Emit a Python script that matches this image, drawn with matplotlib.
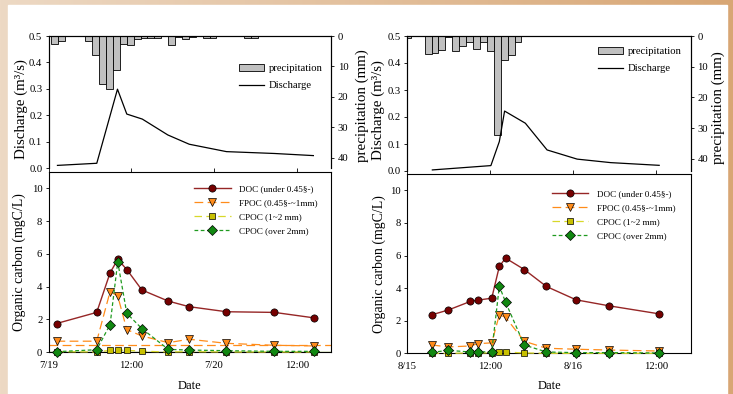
import matplotlib
matplotlib.use('Agg')
import matplotlib.pyplot as plt
import numpy as np
from matplotlib.lines import Line2D
from matplotlib.patches import Rectangle, Patch

plt.rcParams['font.family'] = ['Liberation Serif', 'DejaVu Serif']

# ---------------- data: left event (July 19-20), x in hours from 7/19 00:00 ----------------
L_xticklabels = ['7/19', '12:00', '7/20', '12:00']
L_precip_time = [0.85, 1.85, 5.85, 6.85, 7.85, 8.85, 9.85, 10.85, 11.85, 12.85, 13.85,
                 14.85, 15.85, 17.85, 18.85, 19.85, 20.85, 22.85, 23.85, 28.85, 29.85]
L_precip = [2.5, 1.5, 1.6, 6.1, 15.7, 17.4, 11.3, 2.5, 3.1, 1.1, 0.5,
            0.5, 0.5, 3.1, 0.4, 1.0, 0.4, 0.5, 0.5, 0.5, 0.5]
L_q_time = [1.3, 7.0, 10.0, 11.35, 13.6, 17.3, 20.4, 25.8, 32.75, 38.4]
L_q = [0.011, 0.019, 0.299, 0.205, 0.186, 0.126, 0.091, 0.063, 0.056, 0.048]
L_time = [1.16, 6.99, 8.93, 10.04, 11.35, 13.54, 17.37, 20.38, 25.8, 32.75, 38.43]
L_doc = [1.74, 2.42, 4.84, 5.66, 5.04, 3.79, 3.11, 2.77, 2.46, 2.42, 2.09]
L_fpoc = [0.66, 0.66, 3.69, 3.42, 1.37, 0.98, 0.57, 0.78, 0.53, 0.41, 0.37]
L_cpoc12 = [0.02, 0.0, 0.10, 0.12, 0.10, 0.05, 0.0, 0.02, 0.0, 0.0, 0.0]
L_cpoc2 = [0.02, 0.14, 1.68, 5.51, 2.36, 1.43, 0.16, 0.12, 0.08, 0.04, 0.04]
L_fpoc_ref = 0.43

# ---------------- data: right event (Aug 15-16), x in hours from 8/15 00:00 ----------------
R_xticklabels = ['8/15', '12:00', '8/16', '12:00']
R_precip_time = [0, 3, 4, 5, 6, 7, 8, 9, 10, 11, 12, 13, 14, 15, 16]
R_precip = [0.5, 5.8, 5.4, 4.4, 0.4, 4.9, 3.4, 1.9, 4.3, 1.9, 4.9, 32.2, 7.9, 6.3, 1.9]
R_q_time = [3.62, 12.08, 13.3, 14.06, 17.06, 20.2, 24.55, 29.4, 36.4]
R_q = [0.004, 0.02, 0.109, 0.222, 0.177, 0.078, 0.044, 0.031, 0.021]
R_time = [3.53, 5.95, 9.1, 10.15, 12.2, 13.3, 14.2, 16.9, 20.1, 24.4, 29.2, 36.4]
R_doc = [2.36, 2.66, 3.18, 3.26, 3.38, 5.33, 5.84, 5.14, 4.10, 3.28, 2.91, 2.42]
R_fpoc = [0.51, 0.39, 0.45, 0.59, 0.64, 2.36, 2.21, 0.74, 0.31, 0.25, 0.20, 0.14]
R_cpoc12 = [0.0, 0.0, 0.02, 0.02, 0.02, 0.06, 0.08, 0.02, 0.0, 0.0, 0.0, 0.0]
R_cpoc2 = [0.06, 0.18, 0.08, 0.08, 0.10, 4.12, 3.14, 0.51, 0.08, 0.04, 0.04, 0.02]

xtick_hours = [0, 12, 24, 36]
labels = ['DOC (under 0.45§-)', 'FPOC (0.45§-~1mm)', 'CPOC (1~2 mm)', 'CPOC (over 2mm)']

W, H = 733, 394
fig = plt.figure(figsize=(W / 100, H / 100), dpi=100)

# background: beige gradient frame with white panel
bg = fig.add_axes([0, 0, 1, 1], zorder=-10)
c1 = np.array([237, 217, 196]) / 255
c2 = np.array([216, 166, 116]) / 255
t = np.linspace(0, 1, 256)[None, :, None]
grad = c1 + (c2 - c1) * t
bg.imshow(np.repeat(grad, 2, axis=0), aspect='auto', extent=[0, 1, 0, 1])
bg.add_patch(Rectangle((8 / W, 0), (727 - 8) / W, (394 - 5) / H, color='white'))
bg.set_xlim(0, 1); bg.set_ylim(0, 1)
bg.axis('off')

DOC_C = '#962626'
DOC_M = '#760000'
FP_C = '#ff8c1a'
CP1_C = '#d8d82a'
CP1_M = '#c8c000'
CP2_C = '#1f9a1f'
CP2_M = '#118811'

FS_TICK = 7.7


def top_panel(rect, ptime, prec, qtime, q, pmax, leg_anchor, lab_l, lab_r):
    ax = fig.add_axes(rect)
    ax2 = ax.twinx()
    ax.set_zorder(ax2.get_zorder() + 1)
    ax.patch.set_visible(False)
    ax2.bar(ptime, prec, width=1.0, color='#c0c0c0', edgecolor='black', linewidth=0.6)
    ax2.set_ylim(pmax, 0)
    ax.plot(qtime, q, color='black', lw=0.9)
    ax.set_ylim(0, 0.5)
    ax.set_xlim(0, 41)
    for a in (ax, ax2):
        a.spines['bottom'].set_visible(False)
        a.set_xticks([])
        for s in a.spines.values():
            s.set_linewidth(0.8)
    ax.set_yticks([0, 0.1, 0.2, 0.3, 0.4, 0.5])
    ax.set_yticklabels(['0.0', '0.1', '0.2', '0.3', '0.4', '0.5'])
    ax2.set_yticks([0, 10, 20, 30, 40])
    ax.tick_params(axis='y', labelsize=FS_TICK, length=2.5, width=0.6, pad=2)
    ax2.tick_params(axis='y', labelsize=FS_TICK, length=2.5, width=0.6, pad=2)
    ax.set_ylabel('Discharge (m³/s)', fontsize=10.8)
    ax.yaxis.set_label_coords(lab_l, 0.45)
    ax2.set_ylabel('precipitation (mm)', fontsize=10.8)
    ax2.yaxis.set_label_coords(lab_r, 0.47)
    handles = [Patch(facecolor='#c0c0c0', edgecolor='black', linewidth=0.6),
               Line2D([], [], color='black', lw=0.9)]
    ax.legend(handles, ['precipitation', 'Discharge'], loc='upper left',
              bbox_to_anchor=leg_anchor, frameon=False, fontsize=FS_TICK,
              handlelength=2.3, handleheight=0.6, handletextpad=0.45,
              labelspacing=0.75, borderaxespad=0, borderpad=0)
    return ax


def bottom_panel(rect, tm, doc, fpoc, cp1, cp2, xlabels, leg_anchor, lab_l, date_y, ref=None):
    ax = fig.add_axes(rect)
    ax.set_xlim(0, 41)
    ax.set_ylim(0, 11)
    if ref is not None:
        ax.axhline(ref, color=FP_C, lw=0.9, dashes=(7, 3.5), zorder=1)
        ax.axhline(0, color='#7aa020', lw=1.0, zorder=1)
    ms = 5.2
    ax.plot(tm, doc, color=DOC_C, lw=1.0, marker='o', ms=ms, mfc=DOC_M, mec='black',
            mew=0.5, clip_on=False, zorder=4, label=labels[0])
    ax.plot(tm, fpoc, color=FP_C, lw=0.9, dashes=(7, 3.5), marker='v', ms=ms, mfc=FP_C,
            mec='black', mew=0.5, clip_on=False, zorder=3, label=labels[1])
    ax.plot(tm, cp1, color=CP1_C, lw=0.9, dashes=(6, 3.5), marker='s', ms=4.4, mfc=CP1_M,
            mec='black', mew=0.5, clip_on=False, zorder=3, label=labels[2])
    ax.plot(tm, cp2, color=CP2_C, lw=0.9, dashes=(3, 2), marker='D', ms=4.8, mfc=CP2_M,
            mec='black', mew=0.5, clip_on=False, zorder=5, label=labels[3])
    ax.set_xticks(xtick_hours)
    ax.set_xticklabels(xlabels)
    ax.set_yticks([0, 2, 4, 6, 8, 10])
    ax.tick_params(axis='x', bottom=False, top=True, labelbottom=True, direction='out',
                   length=3, width=0.6, labelsize=FS_TICK, pad=3.5)
    ax.tick_params(axis='y', labelsize=FS_TICK, length=2.5, width=0.6, pad=2)
    for s in ax.spines.values():
        s.set_linewidth(0.8)
    ax.set_ylabel('Organic carbon (mgC/L)', fontsize=10)
    ax.yaxis.set_label_coords(lab_l, 0.5)
    ax.set_xlabel('Date', fontsize=9)
    ax.xaxis.set_label_coords(0.5, date_y)
    ax.legend(loc='upper left', bbox_to_anchor=leg_anchor, frameon=False, fontsize=6.6,
              handlelength=4.0, handletextpad=0.95, labelspacing=0.62,
              borderaxespad=0, borderpad=0)
    return ax


# left event
top_panel([48.5 / W, 1 - 168.3 / H, 282.8 / W, 132.3 / H], L_precip_time, L_precip,
          L_q_time, L_q, 43.5, ((239 - 48.5) / 282.8, (168.3 - 64) / 132.3),
          -0.0725, 1.084)
bottom_panel([48.5 / W, 1 - 352 / H, 282.8 / W, 180 / H], L_time, L_doc, L_fpoc,
             L_cpoc12, L_cpoc2, L_xticklabels,
             ((194 - 48.5) / 282.8, (352 - 184.5) / 180), -0.0796, -0.155,
             ref=L_fpoc_ref)

# right event
top_panel([407.3 / W, 1 - 171 / H, 283.7 / W, 135 / H], R_precip_time, R_precip,
          R_q_time, R_q, 44, ((598 - 407.3) / 283.7, (171 - 47) / 135),
          -0.0786, 1.074)
bottom_panel([407.3 / W, 1 - 353.3 / H, 283.7 / W, 179.3 / H], R_time, R_doc, R_fpoc,
             R_cpoc12, R_cpoc2, R_xticklabels,
             ((551.7 - 407.3) / 283.7, (353.3 - 189.5) / 179.3), -0.075, -0.15)

fig.savefig('out.png', dpi=100)
